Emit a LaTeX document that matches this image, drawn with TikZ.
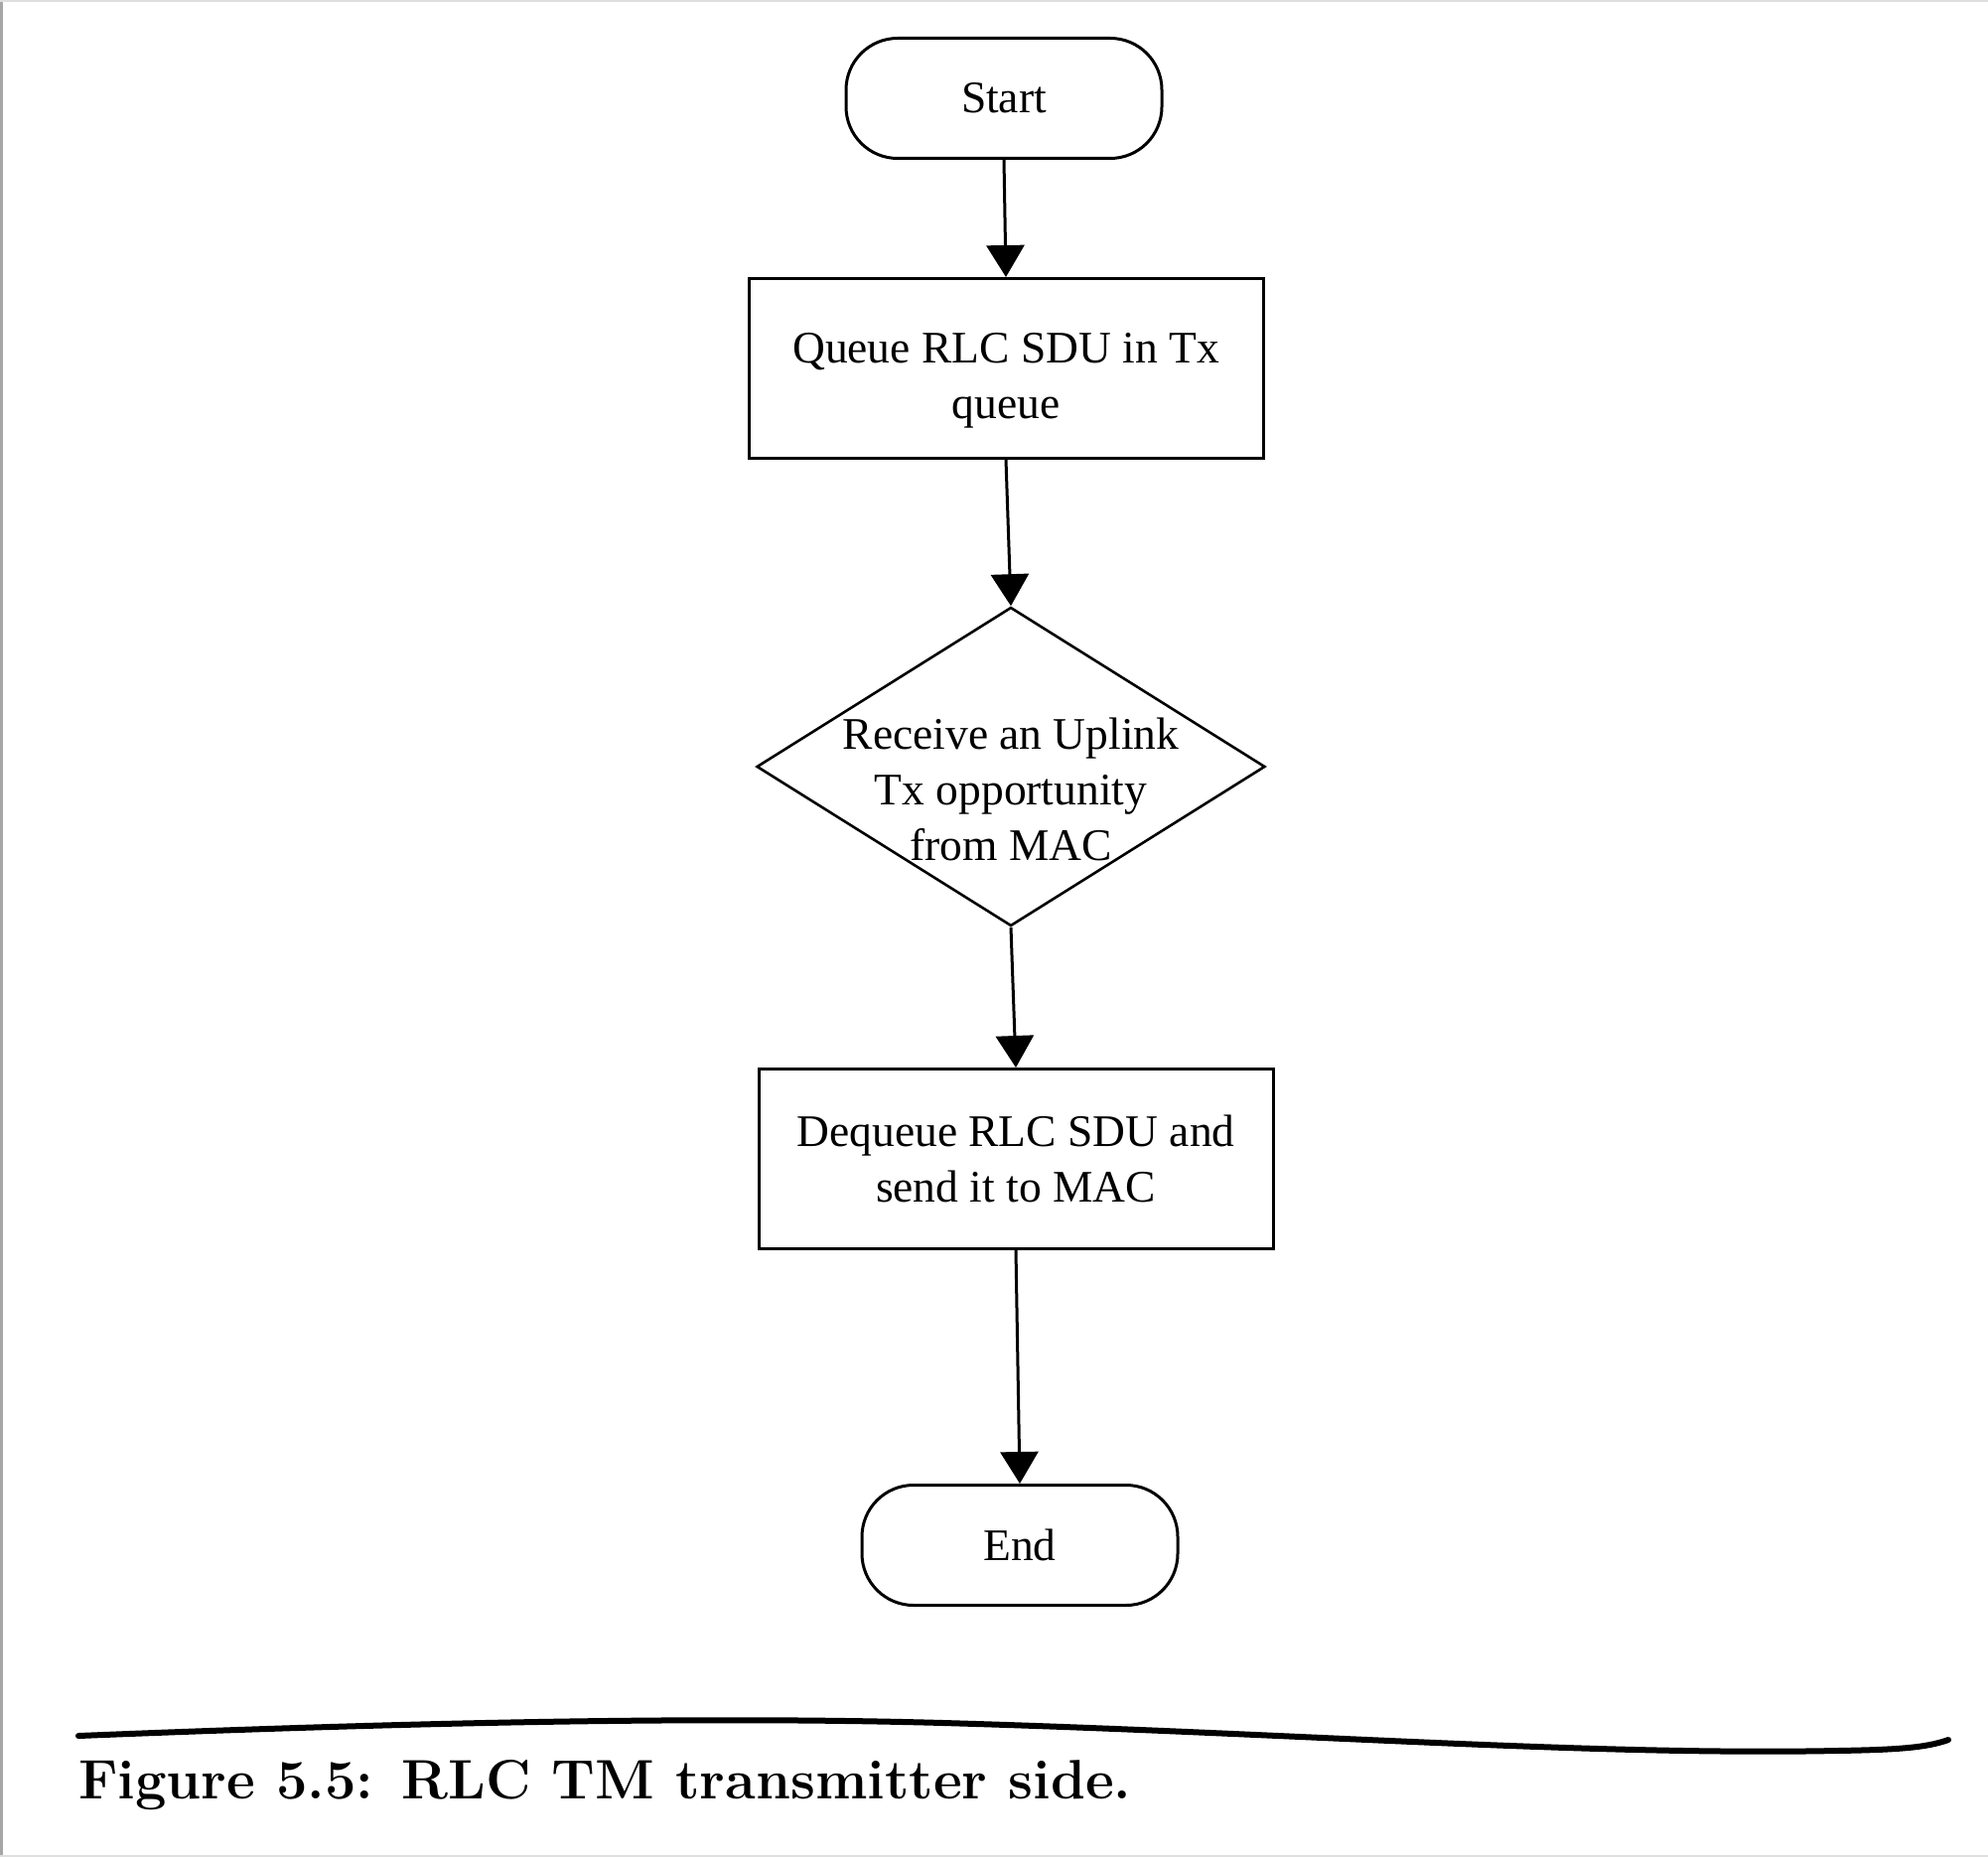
\documentclass[tikz,border=0pt]{standalone}
\usepackage{fontspec}
\newfontfamily\nodefont{Liberation Serif}
\usetikzlibrary{arrows.meta,shapes.geometric}
\begin{document}
\begin{tikzpicture}[x=1pt,y=-1pt,
  every node/.style={font=\nodefont\fontsize{45.5}{56}\selectfont, align=center, inner sep=0pt},
  term/.style={draw, line width=3pt, rounded corners=52pt, minimum width=318pt, minimum height=121pt},
  proc/.style={draw, line width=3pt, minimum width=518pt, minimum height=181pt},
  decide/.style={draw, line width=2.6pt, diamond, minimum width=512pt, minimum height=321pt},
  flow/.style={line width=3pt, -{Triangle[width=38pt,length=32pt]}}]
\useasboundingbox (0,0) rectangle (2002,1870);
\fill[white] (0,0) rectangle (2002,1870);
\draw[gray!70, line width=3pt] (1.5,0) -- (1.5,1870);
\draw[gray!25, line width=2pt] (0,1) -- (2002,1);
\draw[gray!25, line width=2pt] (0,1869) -- (2002,1869);

\node[term] (start) at (1011,99) {\raisebox{-2pt}{Start}};
\node[proc, label={[name=queuetext, yshift=-12pt]center:{Queue RLC SDU in Tx\\queue}}] (queue) at (1013,371) {};
\node[decide, label={[name=recvtext, yshift=-23pt]center:{Receive an Uplink\\Tx opportunity\\from MAC}}] (recv) at (1018,772) {};
\node[proc] (deq) at (1023,1167) {Dequeue RLC SDU and\\send it to MAC};
\node[term] (end) at (1027,1556) {\raisebox{-3pt}{End}};

\draw[flow] (start.south) -- (queue.north);
\draw[flow] (queue.south) -- (recv.north);
\draw[flow] (recv.south) -- (deq.north);
\draw[flow] (deq.south) -- (end.north);

\draw[line width=6pt, line cap=round] (79,1748) .. controls (400,1735) and (700,1728) .. (950,1735) .. controls (1300,1745) and (1600,1768) .. (1850,1763) .. controls (1910,1762) and (1940,1760) .. (1962,1752);
\node[anchor=base west, font=\fontsize{56}{66}\selectfont\bfseries] (cap) at (79,1811) {Figure 5.5: RLC TM transmitter side.};
\end{tikzpicture}
\end{document}
